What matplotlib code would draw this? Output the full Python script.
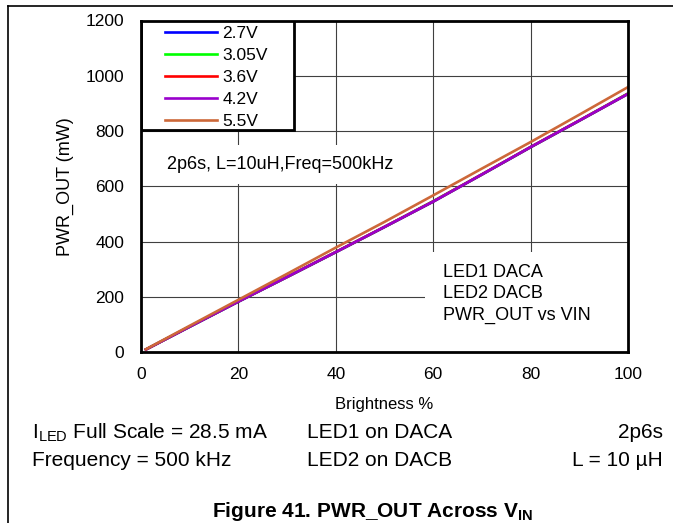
import matplotlib
matplotlib.use("Agg")
import matplotlib.pyplot as plt
from matplotlib.patches import Rectangle
from matplotlib.lines import Line2D

plt.rcParams['font.family'] = ['Liberation Sans', 'DejaVu Sans']
plt.rcParams['mathtext.fontset'] = 'custom'
plt.rcParams['mathtext.rm'] = 'Liberation Sans'
plt.rcParams['mathtext.bf'] = 'Liberation Sans:bold'

# data
brightness = [1, 10, 20, 30, 40, 50, 60, 70, 80, 90, 100]
pwr_27 = [9, 91, 182, 271, 361, 452, 544, 642, 741, 837, 934]
pwr_305 = [9, 92, 183, 272, 362, 453, 546, 643, 742, 838, 936]
pwr_36 = [9, 92, 183, 272, 362, 453, 545, 643, 742, 838, 935]
pwr_42 = [9, 92, 183, 272, 362, 453, 545, 643, 742, 838, 935]
pwr_55 = [10, 95, 189, 283, 378, 471, 567, 664, 760, 859, 959]

series = [pwr_27, pwr_305, pwr_36, pwr_42, pwr_55]
labels = ['2.7V', '3.05V', '3.6V', '4.2V', '5.5V']
colors = ['#0000ff', '#00ff00', '#ff0000', '#9900cc', '#cd6839']

xticks = [0, 20, 40, 60, 80, 100]
yticks = [0, 200, 400, 600, 800, 1000, 1200]

W, H = 673, 523
fig = plt.figure(figsize=(W / 100, H / 100), dpi=100)

def fx(px):
    return px / W

def fy(py):
    return 1 - py / H

ax = fig.add_axes([fx(141), fy(352), fx(628) - fx(141), fy(20.5) - fy(352)])

lines = []
for vals, lab, c in zip(series, labels, colors):
    ln, = ax.plot(brightness, vals, color=c, lw=1.9, label=lab, zorder=4)
    lines.append(ln)

ax.set_xlim(0, 100)
ax.set_ylim(0, 1200)
ax.set_xticks(xticks)
ax.set_yticks(yticks)
ax.tick_params(length=0, labelsize=12.5)
ax.tick_params(axis='y', pad=12)
ax.tick_params(axis='x', pad=11)
ax.grid(True, color='#404040', lw=0.8, zorder=0.5)
ax.set_axisbelow(True)
for sp in ax.spines.values():
    sp.set_linewidth(2)
    sp.set_zorder(5)

ax.set_xlabel('Brightness %', fontsize=12, va='center')
ax.xaxis.set_label_coords(0.5, (352 - 404) / 331.5)
ax.set_ylabel('PWR_OUT (mW)', fontsize=13, va='center')
ax.yaxis.set_label_coords((65 - 141) / 487, 0.5)

# white boxes hiding the grid
ax.add_patch(Rectangle((0, 802), 31.4, 398, facecolor='white', edgecolor='black', lw=2, zorder=3))
ax.add_patch(Rectangle((0, 607), 57.3, 142, facecolor='white', edgecolor='none', zorder=2))
ax.add_patch(Rectangle((58.3, 0), 41.7, 362, facecolor='white', edgecolor='none', zorder=2))

leg = ax.legend(handles=lines, loc='upper left', bbox_to_anchor=(0.049, 0.984),
                frameon=False, fontsize=12.5, borderpad=0, borderaxespad=0,
                handlelength=3.0, handletextpad=0.3, labelspacing=0.39)
leg.set_zorder(6)

ax.text(5.3, 677, '2p6s, L=10uH,Freq=500kHz', fontsize=13, va='center', zorder=6)
for i, t in enumerate(['LED1 DACA', 'LED2 DACB', 'PWR_OUT vs VIN']):
    ax.text(62, 287 - i * 77, t, fontsize=13, va='center', zorder=6)

# conditions under the chart
fs = 15
fig.text(fx(32), fy(438), r'I$_{\mathrm{LED}}$ Full Scale = 28.5 mA', fontsize=fs, va='baseline')
fig.text(fx(32), fy(466), 'Frequency = 500 kHz', fontsize=fs, va='baseline')
fig.text(fx(307), fy(438), 'LED1 on DACA', fontsize=fs, va='baseline')
fig.text(fx(307), fy(466), 'LED2 on DACB', fontsize=fs, va='baseline')
fig.text(fx(663), fy(438), '2p6s', fontsize=fs, va='baseline', ha='right')
fig.text(fx(663), fy(466), 'L = 10 \u00b5H', fontsize=fs, va='baseline', ha='right')
fig.text(fx(372), fy(517), r'Figure 41. PWR_OUT Across V$_{\mathbf{IN}}$',
         fontsize=15, fontweight='bold', va='baseline', ha='center')

# page frame
fig.add_artist(Line2D([fx(8), fx(8)], [fy(6), 0], color='black', lw=1.2))
fig.add_artist(Line2D([fx(8), 1], [fy(6), fy(6)], color='black', lw=1.2))

fig.savefig('out.png', dpi=100)
